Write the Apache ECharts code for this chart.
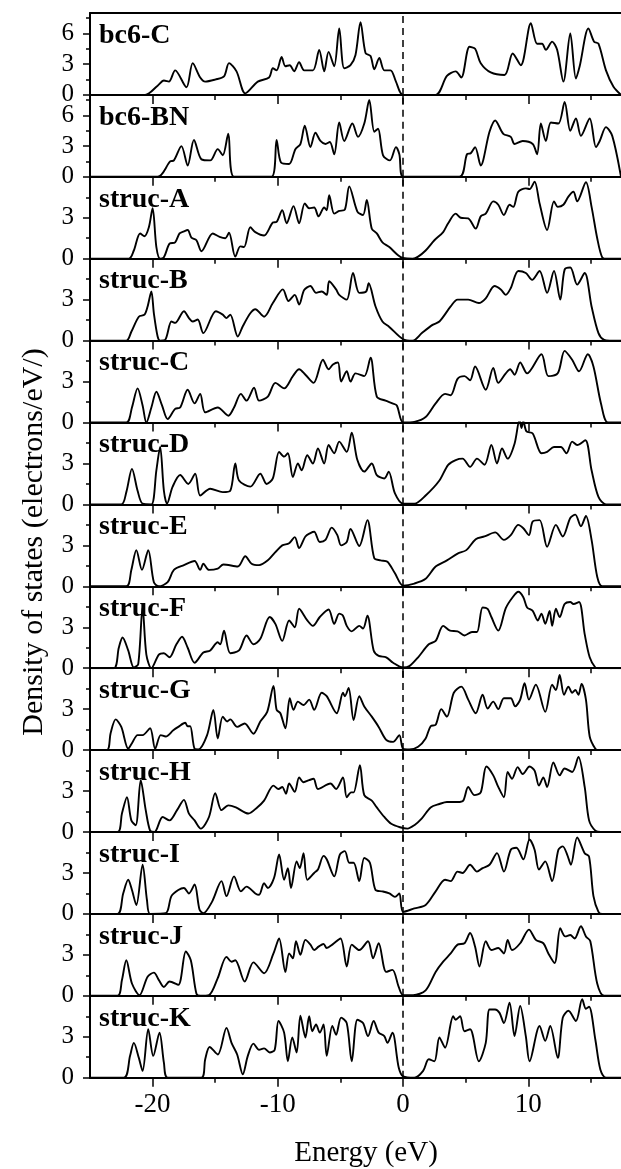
<!DOCTYPE html>
<html><head><meta charset="utf-8">
<script src="https://cdn.jsdelivr.net/npm/echarts@6/dist/echarts.min.js"></script>
<style>html,body{margin:0;padding:0;background:#fff}#c{width:621px;height:1169px}</style>
</head><body><div id="c"></div>
<script>
// ---------- labels / ticks ----------
const panelNames = ['bc6-C','bc6-BN','struc-A','struc-B','struc-C','struc-D','struc-E','struc-F','struc-G','struc-H','struc-I','struc-J','struc-K'];
const yMaxes = [8,8,6,6,6,6,6,6,6,6,6,6,6];
const energyMin = -25, energyMax = 17.4;
const energyMajor = [-20,-10,0,10];
const energyMinor = [-15,-5,5,15];
const dosMajorBc6 = [0,3,6];
const dosLabelsBc6 = [0,3,6];
const dosMinorBc6 = [1.5,4.5,7.5];
const dosMajorStruc = [0,3,6];
const dosLabelsStruc = [0,3];
const dosMinorStruc = [1.5,4.5];
const xTitle = 'Energy (eV)';
const yTitle = 'Density of states (electrons/eV/)';

// ---------- data: [energy (eV), DOS] ----------
const bc6C = [[-25,0],[-20.6,0],[-19.6,0.9],[-19.1,1.4],[-18.7,1.3],[-18.2,2.4],[-17.3,0.75],[-16.8,3.1],[-16.2,1.7],[-15.8,1.3],[-15.0,1.5],[-14.3,1.8],[-13.9,3.1],[-13.3,2.3],[-12.6,0.15],[-11.6,1.3],[-10.7,1.7],[-10.4,2.6],[-10.1,2.4],[-9.7,3.7],[-9.4,2.8],[-9.05,2.9],[-8.7,2.3],[-8.3,3.2],[-7.9,2.4],[-7.2,2.4],[-6.7,4.4],[-6.3,2.3],[-5.95,4.2],[-5.5,2.8],[-5.1,6.5],[-4.7,2.6],[-4.2,2.9],[-3.8,3.9],[-3.4,7.1],[-3.0,4.1],[-2.6,3.8],[-2.3,2.5],[-1.9,3.6],[-1.5,2.4],[-1.0,2.4],[-0.57,1.3],[0,0],[2.6,0],[3.5,1.85],[4.2,2.3],[4.65,1.7],[5.3,4.7],[5.75,4.5],[6.2,3.1],[7.0,2.2],[8.1,1.95],[8.75,4.05],[9.4,2.9],[10.2,7.0],[10.7,5.0],[11.1,5.0],[11.4,4.4],[11.9,5.2],[12.3,4.4],[12.8,1.3],[13.35,6.0],[13.8,1.6],[14.1,2.8],[14.8,6.5],[15.25,5.2],[15.6,5.0],[16.2,2.4],[16.8,0.8],[17.4,0]];
const bc6BN = [[-25,0],[-19.6,0],[-18.6,1.5],[-18.3,1.6],[-17.7,3.0],[-17.2,1.1],[-16.7,3.6],[-16.1,1.7],[-15.4,1.6],[-14.8,2.7],[-14.4,2.1],[-13.96,4.2],[-13.5,0],[-10.5,0],[-10.1,3.6],[-9.75,1.4],[-9.1,1.25],[-8.6,2.7],[-8.2,3.2],[-7.85,5.0],[-7.4,2.9],[-7.0,4.3],[-6.6,3.5],[-6.2,3.2],[-5.85,3.4],[-5.5,2.2],[-5.1,5.3],[-4.7,3.5],[-4.05,5.2],[-3.6,3.9],[-3.1,5.2],[-2.7,7.5],[-2.3,4.4],[-2.0,4.7],[-1.6,2.1],[-1.05,1.6],[-0.57,2.9],[-0.3,2.2],[0,0],[4.5,0],[5.1,2.2],[5.4,2.3],[5.75,2.9],[6.2,1.1],[6.9,4.4],[7.35,5.5],[8.0,4.2],[8.6,3.9],[8.9,3.2],[9.55,3.5],[10.35,3.2],[10.7,2.2],[11.0,5.2],[11.4,3.5],[11.8,5.3],[12.4,5.2],[12.9,7.3],[13.35,4.5],[13.8,5.7],[14.2,4.0],[14.9,5.7],[15.4,2.9],[15.7,3.5],[16.2,4.85],[16.7,4.0],[17.4,0]];
const strucA = [[-25,0],[-21.9,0],[-21.5,0.6],[-21.0,1.85],[-20.65,1.65],[-20.3,2.3],[-20.0,3.7],[-19.7,0.85],[-19.4,0],[-19.1,0.1],[-18.65,1.1],[-18.2,1.2],[-17.85,1.85],[-17.5,2.0],[-17.2,2.1],[-16.9,1.55],[-16.5,1.35],[-16.1,0.55],[-15.2,1.85],[-14.65,1.6],[-14.2,1.5],[-13.9,1.9],[-13.4,0.15],[-13.0,0.9],[-12.7,0.85],[-12.2,2.3],[-11.8,1.95],[-11.1,1.7],[-10.4,2.65],[-10.1,2.7],[-9.65,3.55],[-9.3,2.6],[-8.75,3.85],[-8.3,2.6],[-7.85,4.05],[-7.5,3.7],[-7.1,3.75],[-6.75,3.1],[-6.3,3.75],[-6.1,3.55],[-5.9,4.65],[-5.5,3.3],[-5.1,3.5],[-4.65,3.6],[-4.3,5.3],[-3.65,3.45],[-3.2,3.2],[-2.9,4.3],[-2.5,2.2],[-2.1,1.85],[-1.65,1.2],[-1.1,0.85],[-0.4,0.25],[0,0.05],[0.77,0],[1.2,0.15],[1.8,0.6],[2.5,1.35],[3.2,1.95],[3.6,2.6],[4.2,3.3],[4.6,3.0],[5.2,2.95],[5.8,2.2],[6.2,3.1],[6.6,3.3],[7.2,4.2],[7.6,3.95],[8.05,3.2],[8.5,3.95],[8.8,3.8],[9.2,4.9],[9.8,5.15],[10.1,5.1],[10.5,5.65],[10.9,4.05],[11.5,2.1],[12.05,4.2],[12.35,3.8],[12.8,3.95],[13.2,4.55],[13.6,4.9],[13.9,4.2],[14.6,5.6],[15.05,3.8],[15.5,1.5],[15.9,0.1],[16.3,0],[17.4,0]];
const strucB = [[-25,0],[-22.1,0],[-21.7,0.65],[-21.1,1.75],[-20.65,1.9],[-20.4,2.5],[-20.1,3.6],[-19.9,2.0],[-19.6,0.3],[-19.4,0],[-19.0,0.05],[-18.5,1.4],[-18.2,1.3],[-17.5,2.15],[-17.1,1.65],[-16.8,1.4],[-16.4,1.55],[-15.95,0.55],[-14.95,2.15],[-14.4,1.9],[-14.1,1.65],[-13.8,1.9],[-13.2,0.3],[-12.8,1.05],[-12.2,2.0],[-11.8,2.3],[-11.1,1.75],[-10.4,2.75],[-9.6,3.75],[-9.15,2.9],[-8.65,3.35],[-8.3,2.65],[-7.9,3.7],[-7.4,4.0],[-6.95,3.5],[-6.5,3.6],[-6.1,3.35],[-5.9,4.35],[-5.35,3.75],[-5.1,3.35],[-4.5,3.0],[-4.0,4.95],[-3.5,3.5],[-2.95,3.6],[-2.75,4.2],[-2.2,2.5],[-1.65,1.4],[-1.1,1.0],[0,0.1],[0.77,0],[1.5,0.55],[2.35,1.15],[2.9,1.4],[3.8,2.5],[4.35,3.0],[5.2,3.0],[6.05,2.75],[6.6,3.1],[7.3,4.0],[7.8,3.75],[8.2,3.35],[8.6,3.85],[9.2,5.1],[9.8,4.95],[10.3,4.45],[10.9,5.1],[11.5,3.5],[12.05,5.1],[12.55,3.0],[12.9,5.2],[13.35,5.35],[13.9,4.1],[14.5,4.95],[15.05,2.5],[15.6,0.55],[16.05,0.05],[16.5,0],[17.4,0]];
const strucC = [[-25,0],[-22.1,0],[-21.65,1.1],[-21.2,2.5],[-20.8,1.25],[-20.5,0],[-20.1,1.1],[-19.7,2.25],[-19.25,1.25],[-18.8,0.25],[-18.2,1.0],[-17.8,1.1],[-17.2,2.4],[-16.65,1.4],[-16.2,2.1],[-15.8,0.75],[-14.8,1.1],[-13.95,0.5],[-13.5,1.1],[-12.95,2.1],[-12.5,1.6],[-11.9,2.55],[-11.5,1.6],[-10.8,1.9],[-10.2,2.9],[-9.5,2.5],[-8.8,3.4],[-8.3,3.9],[-7.8,3.5],[-7.15,2.9],[-6.4,4.6],[-5.95,3.9],[-5.6,4.25],[-5.2,4.4],[-4.95,3.0],[-4.5,3.75],[-4.2,3.0],[-3.8,3.6],[-3.1,3.4],[-2.6,4.75],[-2.1,1.9],[-1.4,1.6],[-0.85,1.4],[-0.5,1.25],[0,0],[0.9,0.05],[1.8,0.4],[2.6,1.4],[3.35,2.1],[3.8,2.0],[4.35,3.2],[4.9,3.4],[5.35,3.1],[5.75,4.1],[6.6,2.4],[7.2,4.0],[7.6,2.9],[8.2,3.6],[8.55,3.9],[8.9,3.5],[9.35,4.4],[9.9,3.6],[11.05,5.0],[11.6,3.4],[12.35,3.6],[12.9,5.25],[13.5,4.6],[14.05,3.75],[14.75,5.0],[15.2,4.1],[15.8,1.4],[16.35,0],[17.4,0]];
const strucD = [[-25,0],[-22.5,0],[-22.1,0.9],[-21.65,2.6],[-21.2,1.0],[-20.8,0.05],[-20.1,0],[-19.7,2.5],[-19.4,4.2],[-19.1,1.0],[-18.85,0.05],[-18.4,1.3],[-17.8,2.15],[-17.15,1.5],[-16.6,2.25],[-16.2,0.65],[-15.4,1.15],[-14.4,0.9],[-13.8,1.0],[-13.4,3.0],[-13.1,1.75],[-12.2,1.3],[-11.4,2.25],[-10.9,1.5],[-10.4,1.9],[-9.9,3.85],[-9.5,3.5],[-9.2,3.75],[-8.8,2.0],[-8.4,3.0],[-8.1,2.5],[-7.65,3.6],[-7.2,3.0],[-6.8,4.1],[-6.3,3.0],[-5.95,4.35],[-5.5,3.75],[-5.1,4.6],[-4.5,3.85],[-4.1,5.25],[-3.65,3.25],[-3.1,2.4],[-2.5,3.0],[-2.1,2.15],[-1.5,1.9],[-1.15,2.4],[-0.65,0.8],[0,0.05],[0.9,0.05],[1.8,0.65],[2.9,1.75],[3.6,2.9],[4.2,3.25],[4.75,3.35],[5.35,2.75],[5.9,3.35],[6.5,2.9],[7.05,4.35],[7.5,3.0],[7.9,4.1],[8.35,3.35],[8.9,4.45],[9.3,6.2],[9.45,5.6],[9.6,6.1],[9.85,5.35],[10.35,5.2],[11.05,3.75],[11.5,3.85],[12.05,4.2],[12.6,4.2],[13.05,3.75],[13.5,4.6],[13.9,4.35],[14.55,4.7],[15.05,2.5],[15.6,0.55],[16.2,0],[17.4,0]];
const strucE = [[-25,0],[-22.1,0],[-21.7,1.2],[-21.3,2.65],[-20.85,1.2],[-20.35,2.65],[-19.9,0.3],[-19.5,0],[-18.8,0.3],[-18.3,1.2],[-17.5,1.55],[-16.65,1.85],[-16.2,1.2],[-15.95,1.65],[-15.5,1.2],[-14.8,1.3],[-14.35,1.6],[-13.2,1.45],[-12.6,2.2],[-12.1,1.65],[-11.5,1.55],[-10.8,1.9],[-10.2,2.5],[-9.65,3.0],[-9.1,3.15],[-8.65,3.6],[-8.3,2.8],[-7.8,3.65],[-7.4,3.9],[-7.1,4.0],[-6.65,3.25],[-6.2,3.4],[-5.7,4.3],[-5.25,3.75],[-4.95,3.0],[-4.5,3.25],[-4.2,4.2],[-3.5,2.95],[-2.85,4.85],[-2.3,2.05],[-1.8,1.9],[-1.25,1.8],[-0.65,0.95],[0,0.05],[0.9,0.2],[1.8,0.55],[2.6,1.45],[3.5,1.9],[4.35,2.4],[5.05,2.65],[5.8,3.45],[6.5,3.65],[7.35,3.95],[8.05,3.4],[8.6,3.75],[9.2,4.5],[9.6,4.25],[10.05,3.75],[10.35,4.75],[10.9,4.85],[11.5,2.9],[12.2,4.5],[12.75,3.65],[13.35,5.0],[13.75,5.25],[14.2,4.4],[14.6,5.15],[15.05,3.4],[15.5,0.7],[15.9,0],[17.4,0]];
const strucF = [[-25,0],[-23.1,0],[-22.7,1.5],[-22.4,2.25],[-21.95,1.3],[-21.5,0.05],[-21.15,0.3],[-20.8,4.45],[-20.5,1.0],[-20.1,0],[-19.5,1.0],[-19.1,1.1],[-18.65,0.8],[-18.1,1.75],[-17.65,2.3],[-17.2,1.5],[-16.65,0.4],[-15.95,1.15],[-15.4,1.3],[-14.8,1.9],[-14.6,1.75],[-14.3,2.75],[-13.8,1.1],[-13.1,1.3],[-12.5,2.4],[-11.95,1.75],[-11.4,2.15],[-10.65,3.75],[-10.2,3.25],[-9.65,2.0],[-9.1,3.5],[-8.65,3.0],[-8.3,4.35],[-7.65,3.5],[-7.2,3.1],[-6.65,3.75],[-5.95,4.3],[-5.5,3.25],[-5.1,4.0],[-4.8,3.85],[-4.5,3.1],[-4.1,2.7],[-3.5,3.1],[-3.2,2.9],[-2.85,3.85],[-2.35,1.3],[-1.95,0.9],[-1.35,0.8],[-0.8,0.4],[0,0.05],[0.5,0.15],[1.2,0.8],[2.05,1.75],[2.6,2.0],[3.2,3.1],[3.75,2.75],[4.35,2.7],[4.9,2.4],[5.5,2.65],[5.9,2.65],[6.35,4.45],[6.75,4.35],[7.05,3.75],[7.6,2.75],[8.2,4.4],[8.75,5.2],[9.2,5.6],[9.6,5.2],[9.9,4.45],[10.35,4.2],[10.75,3.5],[11.05,4.0],[11.35,3.25],[11.7,4.2],[11.9,3.1],[12.2,4.35],[12.5,3.75],[12.9,4.7],[13.35,4.85],[13.6,4.7],[14.05,4.85],[14.5,2.5],[14.9,0.8],[15.35,0.05],[15.6,0],[17.4,0]];
const strucG = [[-25,0],[-23.65,0],[-23.35,1.25],[-22.95,2.25],[-22.5,1.7],[-21.95,0.1],[-21.65,0.5],[-21.2,1.1],[-20.8,1.1],[-20.2,1.6],[-19.8,0.1],[-19.35,1.1],[-18.95,1.0],[-18.35,1.45],[-17.95,1.7],[-17.4,2.0],[-17.2,1.75],[-17.0,1.75],[-16.65,0.1],[-16.35,0.05],[-15.65,1.1],[-15.15,2.95],[-14.8,0.85],[-14.4,2.45],[-14.05,2.1],[-13.8,2.25],[-13.25,1.7],[-12.65,1.95],[-11.95,1.2],[-11.4,2.1],[-10.85,2.8],[-10.35,4.7],[-10.1,2.95],[-9.8,2.7],[-9.4,1.6],[-9.05,3.8],[-8.75,2.95],[-8.4,3.55],[-7.95,3.3],[-7.5,3.7],[-7.1,2.95],[-6.5,4.2],[-6.1,3.95],[-5.3,2.7],[-4.8,4.2],[-4.65,3.95],[-4.35,4.55],[-3.95,2.2],[-3.5,3.95],[-3.1,3.2],[-2.5,2.45],[-1.95,1.7],[-1.35,0.75],[-0.8,0.6],[-0.3,1.1],[0,0.1],[0.5,0.05],[1.2,0.25],[1.8,0.85],[2.2,1.75],[2.6,1.85],[3.05,3.0],[3.5,2.45],[4.05,4.2],[4.65,4.65],[5.2,3.7],[5.8,2.7],[6.35,4.05],[6.75,3.05],[7.2,3.55],[7.6,3.0],[8.05,3.8],[8.6,3.8],[8.95,3.2],[9.35,3.7],[9.7,4.9],[10.05,3.7],[10.6,4.8],[11.35,2.8],[11.9,4.8],[12.2,4.4],[12.5,5.5],[12.85,4.05],[13.2,4.65],[13.5,4.2],[13.75,4.4],[14.0,4.05],[14.25,4.85],[14.6,3.7],[14.9,1.0],[15.35,0.1],[15.6,0],[17.4,0]];
const strucH = [[-25,0],[-22.8,0],[-22.45,1.35],[-22.05,2.55],[-21.7,0.85],[-21.35,0.5],[-20.95,3.8],[-20.55,1.6],[-20.2,0.1],[-19.85,0],[-19.2,1.1],[-18.65,0.85],[-18.05,1.6],[-17.5,2.35],[-17.1,1.35],[-16.65,0.85],[-16.15,0.25],[-15.5,1.1],[-15.0,2.85],[-14.5,1.6],[-13.95,1.95],[-13.35,1.8],[-12.35,1.35],[-11.65,1.8],[-11.1,2.3],[-10.35,3.4],[-9.95,3.15],[-9.65,3.3],[-9.35,2.8],[-9.1,3.55],[-8.65,2.95],[-8.3,4.0],[-7.95,3.65],[-7.5,3.8],[-7.15,3.9],[-6.8,3.15],[-5.8,3.55],[-5.35,3.15],[-4.8,4.0],[-4.5,2.55],[-4.15,2.9],[-3.95,2.9],[-3.45,4.9],[-3.1,2.7],[-2.5,2.3],[-2.1,1.8],[-1.5,1.1],[-0.95,0.6],[-0.25,0.35],[0.35,0.25],[0.9,0.5],[1.5,1.0],[2.2,1.8],[2.9,2.05],[3.5,2.2],[4.35,2.2],[4.8,2.3],[5.2,3.3],[5.7,2.7],[6.2,2.9],[6.65,4.8],[7.2,4.15],[7.6,3.3],[8.05,2.55],[8.35,4.4],[8.7,3.9],[9.15,4.75],[9.55,4.25],[10.1,4.8],[10.5,4.5],[10.85,3.4],[11.2,4.0],[11.5,3.3],[12.0,5.1],[12.5,4.15],[12.9,4.65],[13.5,4.4],[14.0,5.5],[14.5,3.3],[14.85,0.85],[15.35,0.1],[15.8,0],[17.4,0]];
const strucI = [[-25,0],[-22.8,0],[-22.35,1.5],[-21.95,2.5],[-21.65,1.75],[-21.3,0.65],[-20.8,3.6],[-20.45,1.0],[-20.2,0],[-18.95,0.05],[-18.5,1.3],[-17.95,1.75],[-17.5,1.9],[-17.1,1.5],[-16.65,2.15],[-16.25,0.3],[-15.95,0.05],[-15.25,0.9],[-14.5,2.4],[-14.1,1.3],[-13.5,2.75],[-12.95,1.65],[-12.5,2.0],[-11.8,1.5],[-11.5,1.4],[-11.1,2.25],[-10.8,1.9],[-10.3,2.65],[-9.9,4.35],[-9.5,2.5],[-9.2,3.35],[-8.95,1.9],[-8.5,3.85],[-8.25,3.35],[-7.95,4.45],[-7.65,2.5],[-7.1,3.0],[-6.8,3.25],[-6.35,4.25],[-6.1,4.0],[-5.5,2.75],[-5.05,4.35],[-4.65,4.6],[-4.3,3.75],[-3.95,3.75],[-3.5,2.4],[-3.1,4.1],[-2.65,3.75],[-2.2,1.75],[-1.65,1.65],[-1.1,1.5],[-0.65,1.25],[-0.3,1.5],[0,0.15],[0.9,0.4],[1.8,0.65],[2.6,1.65],[3.35,2.5],[3.8,2.4],[4.35,3.1],[4.75,3.0],[5.35,3.6],[5.9,3.1],[6.35,3.35],[6.9,3.6],[7.5,4.45],[8.05,3.1],[8.6,4.7],[9.05,4.85],[9.6,4.0],[10.1,5.45],[10.5,4.7],[10.85,3.25],[11.35,3.85],[11.9,2.4],[12.4,4.7],[12.75,4.95],[13.1,4.35],[13.4,3.6],[13.9,5.6],[14.5,4.45],[14.85,4.2],[15.2,1.3],[15.6,0.15],[15.9,0],[17.4,0]];
const strucJ = [[-25,0],[-22.8,0],[-22.45,1.15],[-22.1,2.6],[-21.65,0.9],[-21.05,0.05],[-20.4,1.4],[-19.9,1.7],[-19.5,1.15],[-19.1,0.65],[-18.65,1.05],[-17.95,0.8],[-17.35,3.25],[-16.95,2.6],[-16.5,0.15],[-16.2,0],[-15.5,0.05],[-14.8,1.3],[-14.1,2.85],[-13.7,2.5],[-13.4,2.6],[-12.65,1.05],[-11.95,2.45],[-11.1,1.65],[-10.35,3.1],[-9.9,4.2],[-9.4,1.75],[-9.1,3.1],[-8.8,2.75],[-8.55,4.0],[-8.2,3.0],[-7.8,4.1],[-7.4,3.75],[-7.1,3.35],[-6.75,3.6],[-6.35,3.8],[-6.1,3.5],[-5.65,3.75],[-5.0,4.2],[-4.5,2.15],[-4.1,3.75],[-3.5,3.35],[-2.8,4.0],[-2.4,2.75],[-1.95,3.85],[-1.35,1.75],[-0.85,1.9],[-0.35,0.65],[0,0.05],[0.8,0.05],[1.8,0.4],[2.6,1.75],[3.2,2.5],[3.8,3.1],[4.35,3.75],[4.9,3.85],[5.35,4.6],[5.75,3.6],[6.1,2.15],[6.6,4.0],[7.05,3.35],[7.6,3.5],[8.05,3.1],[8.35,4.1],[8.7,3.35],[9.35,3.85],[10.05,4.85],[10.6,4.1],[11.2,3.85],[11.6,3.1],[12.1,2.4],[12.55,4.95],[12.95,4.35],[13.35,4.45],[13.7,4.2],[14.2,5.1],[14.6,4.35],[14.95,4.0],[15.5,0.9],[16.05,0],[17.4,0]];
const strucK = [[-25,0],[-22.3,0],[-21.8,1.6],[-21.5,2.55],[-21.1,1.45],[-20.8,0.5],[-20.35,3.55],[-19.95,1.6],[-19.45,3.3],[-19.1,1.1],[-18.8,0],[-16.1,0],[-15.8,1.35],[-15.45,2.25],[-14.8,1.7],[-14.1,3.65],[-13.7,2.55],[-13.25,1.7],[-12.8,0.25],[-12.4,1.6],[-11.95,2.5],[-11.5,2.05],[-11.1,2.15],[-10.65,1.85],[-10.25,2.05],[-9.95,4.15],[-9.5,3.3],[-9.2,1.2],[-8.85,2.95],[-8.5,1.85],[-8.2,4.55],[-7.8,2.95],[-7.5,4.5],[-7.25,3.4],[-6.95,3.9],[-6.65,3.3],[-6.35,3.9],[-6.1,1.6],[-5.65,3.8],[-5.35,3.15],[-4.95,4.4],[-4.5,4.0],[-4.1,1.2],[-3.65,4.25],[-3.2,4.0],[-2.8,3.05],[-2.35,4.15],[-1.95,3.3],[-1.5,3.05],[-1.25,2.55],[-0.85,3.3],[-0.35,0.75],[0,0.1],[0.9,0],[1.6,0.5],[2.05,1.35],[2.5,1.2],[2.9,2.95],[3.35,2.2],[4.0,4.5],[4.2,4.25],[4.55,4.5],[4.9,3.4],[5.35,3.55],[6.05,1.2],[6.6,2.55],[6.9,5.0],[7.35,5.0],[7.7,4.75],[8.05,4.0],[8.5,5.5],[8.9,3.05],[9.35,5.25],[9.8,3.05],[10.1,1.2],[10.9,3.8],[11.35,2.7],[11.75,3.8],[12.35,1.45],[12.75,4.4],[13.2,4.9],[13.8,4.15],[14.3,5.75],[14.6,5.05],[14.85,5.2],[15.35,2.8],[15.75,0.6],[16.2,0],[17.4,0]];
const panelData = [bc6C,bc6BN,strucA,strucB,strucC,strucD,strucE,strucF,strucG,strucH,strucI,strucJ,strucK];

// ---------- build ----------
const FONT = '"Liberation Serif","Times New Roman",serif';
const LEFT = 90, TOP0 = 13, PH = 81.9;
const n = panelNames.length;
const grid = [], xAxis = [], yAxis = [], series = [], graphic = [];
const black = '#000';
for (let i = 0; i < n; i++) {
  const top = TOP0 + PH * i;
  grid.push({left: LEFT, right: 0, top: top, height: PH});
  const isBc6 = yMaxes[i] === 8;
  const last = i === n - 1;
  const xMain = xAxis.length;
  xAxis.push({gridIndex: i, type: 'value', min: energyMin, max: energyMax, position: 'bottom',
    axisLine: {show: true, onZero: false, lineStyle: {color: black, width: 2}},
    axisTick: {show: true, customValues: energyMajor, length: 9, inside: false, lineStyle: {color: black, width: 1.5}},
    axisLabel: {show: last, customValues: energyMajor, formatter: v => String(v), fontFamily: FONT, fontSize: 27, color: black, margin: 14},
    splitLine: {show: false}});
  xAxis.push({gridIndex: i, type: 'value', min: energyMin, max: energyMax, position: 'bottom',
    axisLine: {show: false, onZero: false},
    axisTick: {show: true, customValues: energyMinor, length: 5, inside: false, lineStyle: {color: black, width: 1.5}},
    axisLabel: {show: false}, splitLine: {show: false}});
  if (i === 0) {
    xAxis.push({gridIndex: i, type: 'value', min: energyMin, max: energyMax, position: 'top',
      axisLine: {show: true, onZero: false, lineStyle: {color: black, width: 2}},
      axisTick: {show: false}, axisLabel: {show: false}, splitLine: {show: false}});
  }
  const yMain = yAxis.length;
  yAxis.push({gridIndex: i, type: 'value', min: 0, max: yMaxes[i], position: 'left',
    axisLine: {show: true, onZero: false, lineStyle: {color: black, width: 2}},
    axisTick: {show: true, customValues: isBc6 ? dosMajorBc6 : dosMajorStruc, length: 7, lineStyle: {color: black, width: 1.5}},
    axisLabel: {show: true, customValues: isBc6 ? dosLabelsBc6 : dosLabelsStruc, fontFamily: FONT, fontSize: 25, color: black, margin: 16},
    splitLine: {show: false}});
  yAxis.push({gridIndex: i, type: 'value', min: 0, max: yMaxes[i], position: 'left',
    axisLine: {show: false, onZero: false},
    axisTick: {show: true, customValues: isBc6 ? dosMinorBc6 : dosMinorStruc, length: 4, lineStyle: {color: black, width: 1.5}},
    axisLabel: {show: false}, splitLine: {show: false}});
  series.push({type: 'line', name: panelNames[i], xAxisIndex: xMain, yAxisIndex: yMain,
    data: panelData[i], showSymbol: false, symbol: 'none', smooth: 0.3, clip: true,
    lineStyle: {color: black, width: 1.9},
    markLine: {silent: true, symbol: ['none', 'none'], label: {show: false},
      lineStyle: {color: black, width: 1.5, type: [7, 5]}, data: [{xAxis: 0}]}});
  graphic.push({type: 'text', x: 99, y: top + 22.5,
    style: {text: panelNames[i], font: 'bold 28px ' + FONT, fill: black, align: 'left', verticalAlign: 'middle'}});
}
graphic.push({type: 'text', x: 34, y: 542, rotation: Math.PI / 2,
  style: {text: yTitle, font: '30px ' + FONT, fill: black, align: 'center', verticalAlign: 'middle'}});
graphic.push({type: 'text', x: 366, y: 1153,
  style: {text: xTitle, font: '29px ' + FONT, fill: black, align: 'center', verticalAlign: 'middle'}});

const chart = echarts.init(document.getElementById('c'), null, {renderer: 'canvas'});
chart.setOption({animation: false, backgroundColor: '#fff', grid, xAxis, yAxis, series, graphic});
</script></body></html>
